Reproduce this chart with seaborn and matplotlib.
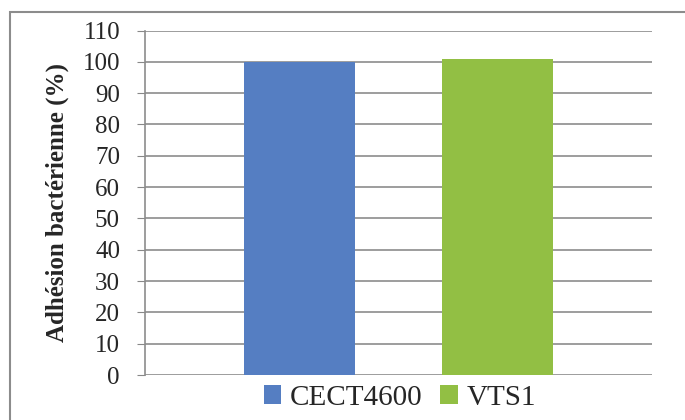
import matplotlib
matplotlib.use("Agg")
import matplotlib.pyplot as plt
import seaborn as sns
import pandas as pd
from matplotlib.patches import Rectangle, Patch

# Données
souches = ["CECT4600", "VTS1"]
adhesion = [100, 101]
couleurs = ["#557EC2", "#92BF44"]

sns.set_style("white")
plt.rcParams['font.family'] = ['Liberation Serif', 'DejaVu Serif']

df = pd.DataFrame({"souche": souches, "adhesion": adhesion})

fig = plt.figure(figsize=(6.85, 4.2), dpi=100)
ax = fig.add_axes([145 / 685, 1 - 375 / 420, 507 / 685, (375 - 30.5) / 420])

sns.barplot(data=df, x="souche", y="adhesion", hue="souche", palette=couleurs,
            width=0.56, dodge=False, legend=False, ax=ax, saturation=1,
            linewidth=0)

ax.set_ylim(0, 110)
ax.set_yticks(range(0, 111, 10))
ax.set_xlim(-0.78, 1.78)
ax.set_xticks([])
ax.set_xlabel("")
ax.set_ylabel("Adhésion bactérienne (%)", fontsize=18, fontweight="bold", labelpad=10)
ax.tick_params(axis="y", labelsize=18, length=6, color="#888888", pad=12, left=True)

ax.yaxis.grid(True, color="#8c8c8c", linewidth=1.2)
ax.set_axisbelow(True)
for s in ["top", "right", "bottom"]:
    ax.spines[s].set_visible(False)
ax.spines["left"].set_color("#8c8c8c")
ax.spines["left"].set_linewidth(1.2)

handles = [Patch(facecolor=c, edgecolor="none") for c in couleurs]
fig.legend(handles, souches, loc="center", bbox_to_anchor=(0.584, 1 - 398 / 420),
           ncol=2, frameon=False, fontsize=21, handlelength=0.6, handleheight=0.6,
           handletextpad=0.3, columnspacing=0.6, borderpad=0)

# cadre du graphique
fig.patches.append(Rectangle((10 / 685, -0.05), 1.0, 1 - 12 / 420 + 0.05,
                             transform=fig.transFigure, fill=False,
                             edgecolor="#8c8c8c", linewidth=1.5))

fig.savefig("out.png", dpi=100)
